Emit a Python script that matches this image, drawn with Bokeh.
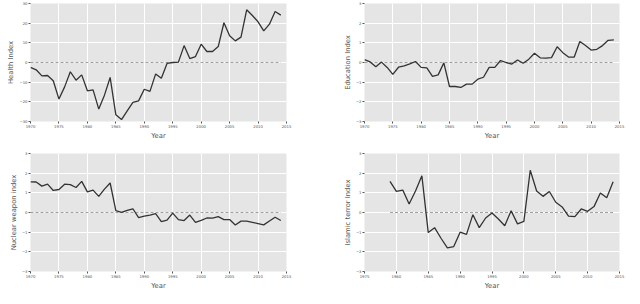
from bokeh.plotting import figure
from bokeh.layouts import row, column
from bokeh.models import Range1d, FixedTicker, CustomJSTickFormatter
from bokeh.embed import file_html
from bokeh.resources import INLINE

years = list(range(1970, 2015))
health = [-2.5, -3.7, -6.8, -6.6, -9.3, -18.6, -12.4, -4.7, -9.0, -6.3,
          -14.4, -13.9, -23.7, -16.6, -7.6, -26.6, -29.0, -24.6, -20.3, -19.5,
          -13.6, -14.7, -5.8, -8.0, -0.5, 0.0, 0.2, 8.6, 2.0, 3.0,
          9.3, 5.6, 5.6, 8.1, 20.2, 13.6, 11.0, 12.9, 26.8, 23.9,
          20.7, 16.1, 19.5, 25.9, 24.1]
education = [0.15, 0.03, -0.22, 0.02, -0.25, -0.6, -0.24, -0.17, -0.07, 0.05,
             -0.25, -0.27, -0.71, -0.63, -0.02, -1.22, -1.22, -1.27, -1.1, -1.1,
             -0.85, -0.75, -0.25, -0.25, 0.1, 0.0, -0.08, 0.13, -0.04, 0.17,
             0.47, 0.24, 0.22, 0.25, 0.8, 0.5, 0.28, 0.27, 1.07, 0.86,
             0.63, 0.67, 0.86, 1.13, 1.15]
nuclear = [1.56, 1.55, 1.34, 1.44, 1.12, 1.17, 1.44, 1.42, 1.27, 1.58,
           1.05, 1.14, 0.82, 1.19, 1.5, 0.09, 0.01, 0.11, 0.19, -0.26,
           -0.19, -0.13, -0.06, -0.47, -0.39, -0.03, -0.36, -0.41, -0.13, -0.5,
           -0.4, -0.28, -0.29, -0.21, -0.36, -0.36, -0.64, -0.44, -0.44, -0.5,
           -0.56, -0.63, -0.43, -0.24, -0.41]
terror_years = list(range(1979, 2015))
terror = [1.58, 1.07, 1.14, 0.43, 1.09, 1.87, -1.02, -0.77, -1.31, -1.8,
          -1.73, -1.0, -1.11, -0.11, -0.77, -0.28, -0.03, -0.33, -0.67, 0.09,
          -0.58, -0.45, 2.15, 1.09, 0.82, 1.07, 0.52, 0.28, -0.18, -0.21,
          0.18, 0.06, 0.3, 0.99, 0.75, 1.56]

FONT = "DejaVu Sans"
GREY = "#555555"
fmt = CustomJSTickFormatter(code="return tick < 0 ? '\u2212' + Math.abs(tick) : String(tick);")


def make(xs, ys, label, xr, yr, xticks, yticks, w, h, bl, br, bt, bb):
    p = figure(width=w, height=h, output_backend="svg", toolbar_location=None,
               x_range=Range1d(*xr), y_range=Range1d(*yr),
               min_border_left=bl, min_border_right=br,
               min_border_top=bt, min_border_bottom=bb)
    p.background_fill_color = "#E5E5E5"
    p.outline_line_color = None
    p.border_fill_color = "white"
    for g in (p.xgrid, p.ygrid):
        g.grid_line_color = "white"
        g.grid_line_width = 1
    p.xaxis.ticker = FixedTicker(ticks=xticks)
    p.yaxis.ticker = FixedTicker(ticks=yticks)
    p.xgrid.ticker = FixedTicker(ticks=xticks)
    p.ygrid.ticker = FixedTicker(ticks=yticks)
    p.yaxis.formatter = fmt
    for ax in (p.xaxis, p.yaxis):
        ax.axis_line_color = None
        ax.major_tick_line_color = GREY
        ax.major_tick_out = 2
        ax.major_tick_in = 0
        ax.minor_tick_line_color = None
        ax.major_label_text_font = FONT
        ax.major_label_text_font_size = "3.8px"
        ax.major_label_text_color = GREY
        ax.major_label_standoff = 1
        ax.axis_label_text_font = FONT
        ax.axis_label_text_font_size = "6.8px"
        ax.axis_label_text_font_style = "normal"
        ax.axis_label_text_color = GREY
        ax.axis_label_standoff = 1
    p.xaxis.axis_label = "Year"
    p.yaxis.axis_label = label
    p.line([xs[0], xs[-1]], [0, 0], line_color="#A0A0A0", line_width=1,
           line_dash="3 2")
    p.line(xs, ys, line_color="#333333", line_width=1.3)
    return p


xt = list(range(1970, 2016, 5))
xt2 = list(range(1975, 2016, 5))
yt1 = list(range(-30, 31, 10))
yt2 = list(range(-3, 4))

p1 = make(years, health, "Health Index", (1970, 2015), (-30, 30), xt, yt1,
          320, 150, 30, 34, 3, 29)
p2 = make(years, education, "Education Index", (1970, 2015), (-3, 3), xt, yt2,
          318, 150, 44, 19, 3, 29)
p3 = make(years, nuclear, "Nuclear weapon index", (1970, 2015), (-3, 3), xt, yt2,
          320, 150, 30, 34, 3, 29)
p4 = make(terror_years, terror, "Islamic terror Index", (1975, 2015), (-3, 3), xt2, yt2,
          318, 150, 44, 19, 3, 29)

layout = column(row(p1, p2, spacing=0), row(p3, p4, spacing=0), spacing=0)
open("out.html", "w").write(file_html(layout, INLINE))
